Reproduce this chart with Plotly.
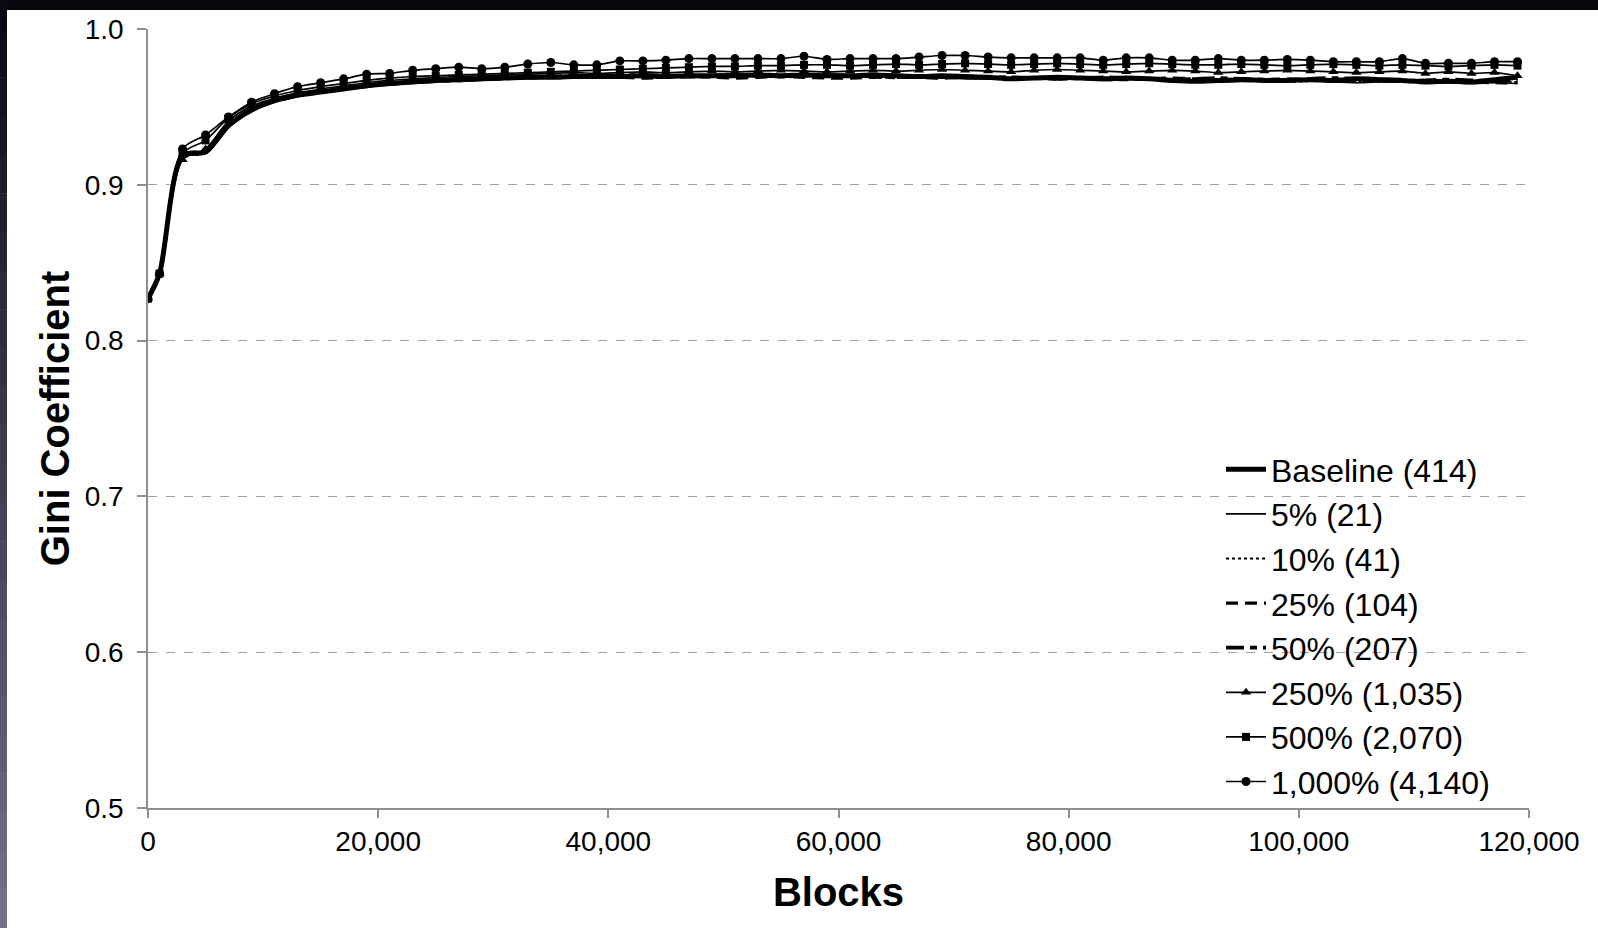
import plotly.graph_objects as go

# Block heights at which the Gini coefficient was sampled
BLOCKS = [
    0, 1000, 3000, 5000, 7000, 9000, 11000, 13000, 15000, 17000,
    19000, 21000, 23000, 25000, 27000, 29000, 31000, 33000, 35000, 37000,
    39000, 41000, 43000, 45000, 47000, 49000, 51000, 53000, 55000, 57000,
    59000, 61000, 63000, 65000, 67000, 69000, 71000, 73000, 75000, 77000,
    79000, 81000, 83000, 85000, 87000, 89000, 91000, 93000, 95000, 97000,
    99000, 101000, 103000, 105000, 107000, 109000, 111000, 113000, 115000, 117000,
    119000,
]

BASELINE_414 = [
    0.827, 0.843, 0.919, 0.921, 0.938, 0.948, 0.954, 0.9575, 0.9595, 0.9615,
    0.9635, 0.965, 0.966, 0.967, 0.9675, 0.968, 0.9685, 0.969, 0.969, 0.9695,
    0.9695, 0.9695, 0.970, 0.9695, 0.970, 0.970, 0.970, 0.9705, 0.970, 0.9705,
    0.970, 0.970, 0.9705, 0.970, 0.9695, 0.970, 0.9695, 0.969, 0.968, 0.9685,
    0.969, 0.9685, 0.968, 0.9685, 0.968, 0.967, 0.9665, 0.967, 0.9675, 0.967,
    0.967, 0.9675, 0.967, 0.968, 0.9675, 0.967, 0.966, 0.9665, 0.966, 0.9675,
    0.969,
]

PCT5_21 = [
    0.827, 0.843, 0.918, 0.922, 0.939, 0.949, 0.9545, 0.958, 0.960, 0.962,
    0.964, 0.9655, 0.9665, 0.9675, 0.968, 0.9685, 0.969, 0.969, 0.9695, 0.970,
    0.970, 0.9695, 0.970, 0.970, 0.9705, 0.970, 0.9695, 0.970, 0.9705, 0.970,
    0.9695, 0.970, 0.970, 0.969, 0.969, 0.9685, 0.968, 0.968, 0.9685, 0.969,
    0.9685, 0.968, 0.967, 0.9675, 0.968, 0.9675, 0.967, 0.966, 0.9665, 0.967,
    0.9675, 0.967, 0.966, 0.9655, 0.966, 0.9665, 0.966, 0.9655, 0.965, 0.9655,
    0.965,
]

PCT10_41 = [
    0.827, 0.843, 0.917, 0.921, 0.938, 0.948, 0.954, 0.9575, 0.960, 0.962,
    0.964, 0.965, 0.966, 0.967, 0.9675, 0.968, 0.9685, 0.969, 0.969, 0.9695,
    0.969, 0.9695, 0.970, 0.9695, 0.969, 0.9695, 0.970, 0.9695, 0.969, 0.9695,
    0.970, 0.9695, 0.969, 0.9685, 0.969, 0.9695, 0.969, 0.9685, 0.968, 0.968,
    0.9675, 0.968, 0.9685, 0.968, 0.9675, 0.967, 0.9675, 0.968, 0.9675, 0.967,
    0.966, 0.9665, 0.967, 0.9665, 0.966, 0.9665, 0.967, 0.966, 0.9655, 0.966,
    0.966,
]

PCT25_104 = [
    0.827, 0.843, 0.918, 0.9205, 0.9375, 0.9475, 0.9535, 0.957, 0.9595, 0.9615,
    0.963, 0.9645, 0.9655, 0.9665, 0.967, 0.9675, 0.968, 0.9685, 0.969, 0.969,
    0.9695, 0.969, 0.9685, 0.969, 0.9695, 0.969, 0.9685, 0.969, 0.9695, 0.969,
    0.9685, 0.9685, 0.969, 0.9695, 0.969, 0.9685, 0.969, 0.9685, 0.968, 0.9685,
    0.969, 0.9685, 0.968, 0.9675, 0.968, 0.9685, 0.968, 0.9675, 0.967, 0.9675,
    0.968, 0.9675, 0.967, 0.9665, 0.967, 0.9665, 0.966, 0.9665, 0.966, 0.9655,
    0.9655,
]

PCT50_207 = [
    0.827, 0.843, 0.919, 0.9215, 0.9385, 0.9485, 0.954, 0.9575, 0.960, 0.962,
    0.9635, 0.965, 0.966, 0.9665, 0.967, 0.968, 0.9685, 0.969, 0.9695, 0.970,
    0.9695, 0.970, 0.9705, 0.970, 0.9695, 0.970, 0.9705, 0.970, 0.9695, 0.970,
    0.9705, 0.970, 0.9695, 0.969, 0.9695, 0.970, 0.9695, 0.969, 0.969, 0.9685,
    0.968, 0.9685, 0.969, 0.9685, 0.968, 0.9675, 0.968, 0.9685, 0.968, 0.9675,
    0.967, 0.968, 0.9685, 0.968, 0.967, 0.9665, 0.967, 0.9675, 0.967, 0.9665,
    0.9675,
]

PCT250_1035 = [
    0.827, 0.843, 0.916, 0.923, 0.941, 0.9505, 0.9555, 0.959, 0.9615, 0.9635,
    0.9655, 0.967, 0.968, 0.969, 0.9695, 0.970, 0.9705, 0.971, 0.9715, 0.972,
    0.9715, 0.972, 0.9725, 0.972, 0.9725, 0.973, 0.9725, 0.973, 0.9735, 0.973,
    0.9725, 0.973, 0.9735, 0.973, 0.9735, 0.974, 0.9735, 0.973, 0.9725, 0.9735,
    0.974, 0.9735, 0.973, 0.9725, 0.973, 0.9735, 0.973, 0.972, 0.9725, 0.973,
    0.9735, 0.973, 0.9725, 0.972, 0.9725, 0.973, 0.9715, 0.9725, 0.9715, 0.972,
    0.970,
]

PCT500_2070 = [
    0.827, 0.843, 0.920, 0.9285, 0.943, 0.952, 0.957, 0.9605, 0.963, 0.965,
    0.967, 0.9685, 0.9695, 0.970, 0.9705, 0.971, 0.9715, 0.972, 0.9725, 0.973,
    0.9735, 0.974, 0.9745, 0.975, 0.9755, 0.976, 0.976, 0.9765, 0.9765, 0.977,
    0.977, 0.9765, 0.977, 0.9775, 0.977, 0.9775, 0.978, 0.9775, 0.977, 0.9775,
    0.978, 0.9775, 0.977, 0.9775, 0.978, 0.9775, 0.977, 0.977, 0.9775, 0.977,
    0.9765, 0.977, 0.9775, 0.977, 0.9765, 0.977, 0.9765, 0.976, 0.9765, 0.977,
    0.9765,
]

PCT1000_4140 = [
    0.827, 0.843, 0.923, 0.932, 0.9435, 0.953, 0.9585, 0.963, 0.9655, 0.968,
    0.971, 0.9715, 0.9735, 0.9745, 0.9755, 0.9745, 0.9755, 0.9775, 0.9785, 0.977,
    0.977, 0.9795, 0.9795, 0.980, 0.981, 0.981, 0.981, 0.981, 0.981, 0.9825,
    0.9805, 0.981, 0.981, 0.981, 0.982, 0.983, 0.983, 0.982, 0.9815, 0.9815,
    0.9815, 0.9815, 0.980, 0.9815, 0.9815, 0.980, 0.980, 0.981, 0.980, 0.980,
    0.9805, 0.980, 0.979, 0.979, 0.979, 0.981, 0.978, 0.978, 0.978, 0.979,
    0.979,
]

SERIES_NAMES = [
    "Baseline (414)", "5% (21)", "10% (41)", "25% (104)", "50% (207)",
    "250% (1,035)", "500% (2,070)", "1,000% (4,140)",
]

Y_TICKS = [0.5, 0.6, 0.7, 0.8, 0.9, 1.0]
X_TICKS = [0, 20000, 40000, 60000, 80000, 100000, 120000]

# Page geometry (pixels)
W, H = 1598, 928
ML, MR, MT, MB = 148, 69, 29, 120
PW, PH = W - ML - MR, H - MT - MB


def px_x(px):
    return (px - ML) / PW


def px_y(py):
    return (H - MB - py) / PH


FONT = "Liberation Sans, Arial, sans-serif"
INK = "#000000"

styles = [
    dict(line=dict(color=INK, width=5, dash="solid"), mode="lines"),
    dict(line=dict(color=INK, width=1.6, dash="solid"), mode="lines"),
    dict(line=dict(color=INK, width=1.8, dash="dot"), mode="lines"),
    dict(line=dict(color=INK, width=3.2, dash="12px,7px"), mode="lines"),
    dict(line=dict(color=INK, width=3.8, dash="18px,6px,7px,6px"), mode="lines"),
    dict(line=dict(color=INK, width=1.7), mode="lines+markers",
         marker=dict(symbol="triangle-up", size=9, color=INK)),
    dict(line=dict(color=INK, width=1.7), mode="lines+markers",
         marker=dict(symbol="square", size=8, color=INK)),
    dict(line=dict(color=INK, width=1.7), mode="lines+markers",
         marker=dict(symbol="circle", size=9, color=INK)),
]

values = [BASELINE_414, PCT5_21, PCT10_41, PCT25_104, PCT50_207,
          PCT250_1035, PCT500_2070, PCT1000_4140]

fig = go.Figure()
for name, ys, st in zip(SERIES_NAMES, values, styles):
    line = dict(st["line"])
    line["shape"] = "spline"
    line["smoothing"] = 0.8
    fig.add_trace(go.Scatter(
        x=BLOCKS, y=ys, name=name, mode=st["mode"], line=line,
        marker=st.get("marker"),
    ))

# Dark frame strips along the top and left edges of the page
shapes = [
    dict(type="rect", xref="paper", yref="paper", layer="above",
         x0=px_x(0), x1=px_x(W), y0=px_y(10), y1=px_y(0),
         fillcolor="#06060c", line=dict(width=0)),
]
n_seg = 24
top_rgb = (10, 10, 22)
bot_rgb = (112, 112, 138)
for k in range(n_seg):
    t = k / (n_seg - 1)
    r = int(top_rgb[0] + (bot_rgb[0] - top_rgb[0]) * t)
    g = int(top_rgb[1] + (bot_rgb[1] - top_rgb[1]) * t)
    b = int(top_rgb[2] + (bot_rgb[2] - top_rgb[2]) * t)
    y0 = H * k / n_seg
    y1 = H * (k + 1) / n_seg
    shapes.append(dict(type="rect", xref="paper", yref="paper", layer="above",
                       x0=px_x(0), x1=px_x(7), y0=px_y(y1 + 0.5), y1=px_y(y0),
                       fillcolor=f"rgb({r},{g},{b})", line=dict(width=0)))

fig.update_layout(
    width=W, height=H,
    margin=dict(l=ML, r=MR, t=MT, b=MB),
    paper_bgcolor="white", plot_bgcolor="white",
    font=dict(family=FONT, color=INK),
    showlegend=True,
    legend=dict(
        x=px_x(1221), y=px_y(442), xanchor="left", yanchor="top",
        bgcolor="rgba(0,0,0,0)", borderwidth=0,
        font=dict(family=FONT, size=32, color=INK),
        itemwidth=40, tracegroupgap=0,
    ),
    shapes=shapes,
    xaxis=dict(
        range=[0, 120000], tickvals=X_TICKS, tickformat=",",
        showgrid=False, zeroline=False,
        showline=True, linecolor="#8f8f8f", linewidth=1.5,
        ticks="outside", ticklen=8, tickcolor="#8f8f8f", tickwidth=1.5,
        tickfont=dict(family=FONT, size=28, color=INK),
        title=dict(text="Blocks", standoff=22,
                   font=dict(family=FONT, size=40, color=INK, weight="bold")),
    ),
    yaxis=dict(
        range=[0.5, 1.0], tickvals=Y_TICKS, tickformat=".1f",
        showgrid=True, gridcolor="#a0a0a0", gridwidth=1, griddash="dash",
        zeroline=False,
        showline=True, linecolor="#8f8f8f", linewidth=1.5,
        ticks="outside", ticklen=9, tickcolor="#8f8f8f", tickwidth=1.5,
        tickfont=dict(family=FONT, size=28, color=INK),
        ticklabelstandoff=8,
        title=dict(text="Gini Coefficient", standoff=3,
                   font=dict(family=FONT, size=40, color=INK, weight="bold")),
    ),
)

fig.write_html("out.html")
